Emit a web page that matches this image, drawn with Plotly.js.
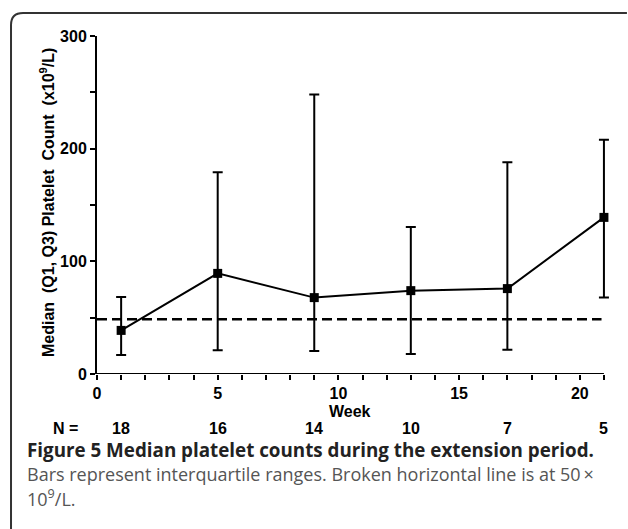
<!DOCTYPE html>
<html>
<head>
<meta charset="utf-8">
<script src="https://cdn.plot.ly/plotly-3.0.1.min.js"></script>
<style>html,body{margin:0;padding:0;background:#fff;}</style>
</head>
<body>
<div id="chart" style="width:628px;height:529px;"></div>
<script>
// Data
const weeks = [1, 5, 9, 13, 17, 21];
const median = [38.7, 89.3, 67.8, 74, 75.8, 139];
const q1 = [16.9, 21, 20.4, 17.8, 21.6, 67.8];
const q3 = [68.4, 179, 248, 130.5, 188, 208];
const nCounts = ['18', '16', '14', '10', '7', '5'];
const refLine = 48.5;
const refLineEnd = 20.9;
const xTicks = [0, 5, 10, 15, 20];
const yTicks = [0, 100, 200, 300];
const xAxisEnd = 21;

const errPlus = median.map((m, i) => q3[i] - m);
const errMinus = median.map((m, i) => m - q1[i]);

// plot area in pixels: x=0 at 97, x=21 at 604, top 36, bottom 374
const xMax = 21.5;
const L = 97, T = 36, B = 374;
const R = L + (604 - L) * xMax / xAxisEnd;
const px = X => (X - L) / (R - L);
const py = Y => (B - Y) / (B - T);

const chartFont = {family: '"Liberation Sans", Arial, sans-serif', size: 16, color: '#000'};
const titleFont = {family: '"Liberation Sans", Arial, sans-serif', size: 16, color: '#000'};
const capFontB = {family: '"Open Sans", sans-serif', size: 18.8, color: '#222'};
const capFont = {family: '"Open Sans", sans-serif', size: 18, color: '#555'};

const trace = {
  x: weeks, y: median, type: 'scatter', mode: 'lines+markers',
  line: {color: '#000', width: 2},
  marker: {symbol: 'square', size: 9, color: '#000'},
  error_y: {type: 'data', symmetric: false, array: errPlus, arrayminus: errMinus,
            color: '#000', thickness: 2, width: 5},
  cliponaxis: false, showlegend: false, hoverinfo: 'none'
};

const annotations = [];
weeks.forEach((w, i) => {
  annotations.push({x: w, xref: 'x', y: py(428), yref: 'paper', text: '<b>' + nCounts[i] + '</b>',
    showarrow: false, font: chartFont, xanchor: 'center', yanchor: 'middle', borderpad: 0});
});
annotations.push({x: px(65), xref: 'paper', y: py(428), yref: 'paper', text: '<b>N =</b>',
  showarrow: false, font: chartFont, xanchor: 'center', yanchor: 'middle', borderpad: 0});
annotations.push({x: px(26), xref: 'paper', y: py(450), yref: 'paper',
  text: '<b>Figure 5 Median platelet counts during the extension period.</b>',
  showarrow: false, font: capFontB, xanchor: 'left', yanchor: 'middle', borderpad: 0});
annotations.push({x: px(26), xref: 'paper', y: py(474), yref: 'paper',
  text: 'Bars represent interquartile ranges. Broken horizontal line is at 50\u2009\u00d7',
  showarrow: false, font: capFont, xanchor: 'left', yanchor: 'middle', borderpad: 0});
annotations.push({x: px(26), xref: 'paper', y: py(498), yref: 'paper',
  text: '10<sup>9</sup>/L.',
  showarrow: false, font: capFont, xanchor: 'left', yanchor: 'middle', borderpad: 0});
annotations.push({x: 10.5, xref: 'x', y: py(411), yref: 'paper', text: '<b>Week</b>',
  showarrow: false, font: titleFont, xanchor: 'center', yanchor: 'middle'});
annotations.push({x: px(47), xref: 'paper', y: py(203), yref: 'paper',
  text: '<b>Median  (Q1, Q3) Platelet  Count  (x10<sup>9</sup>/L)</b>',
  textangle: -90, showarrow: false, font: titleFont, xanchor: 'center', yanchor: 'middle'});

const bx0 = px(11), by0 = py(529), byTop = py(13), bxR = px(627);
const rx = 12 / (R - L), ry = 12 / (B - T);
const shapes = [
  {type: 'line', xref: 'x', yref: 'y', x0: 0, x1: refLineEnd, y0: refLine, y1: refLine,
   line: {color: '#000', width: 2.5, dash: '10px,5px'}},
  {type: 'line', xref: 'x', yref: 'y', x0: 0, x1: xAxisEnd, y0: 0, y1: 0,
   line: {color: '#000', width: 2}},
  {type: 'path', xref: 'paper', yref: 'paper',
   path: `M ${bx0},${by0} L ${bx0},${byTop - ry} Q ${bx0},${byTop} ${bx0 + rx},${byTop} L ${bxR},${byTop}`,
   line: {color: '#333', width: 2}}
];

const layout = {
  width: 628, height: 529,
  margin: {l: L, r: 628 - R, t: T, b: 529 - B, pad: 0},
  paper_bgcolor: '#fff', plot_bgcolor: '#fff',
  font: chartFont,
  xaxis: {range: [0, xMax], tickvals: xTicks, ticktext: xTicks.map(v => '<b>' + v + '</b>'),
    showgrid: false, zeroline: false, showline: false,
    ticks: 'outside', ticklen: 5, tickwidth: 2, tickcolor: '#000', tickfont: chartFont,
    minor: {tickvals: [1,2,3,4,6,7,8,9,11,12,13,14,16,17,18,19,21], ticks: 'outside', ticklen: 5, tickwidth: 2, tickcolor: '#000', showgrid: false}},
  yaxis: {range: [0, 300], tickvals: yTicks, ticktext: yTicks.map(v => '<b>' + v + '</b>'),
    showgrid: false, zeroline: false, showline: true, linecolor: '#000', linewidth: 2,
    ticks: 'outside', ticklen: 5, tickwidth: 2, tickcolor: '#000', tickfont: chartFont,
    minor: {dtick: 50, tick0: 0, ticks: 'outside', ticklen: 5, tickwidth: 2, tickcolor: '#000', showgrid: false}},
  annotations: annotations,
  shapes: shapes
};

Plotly.newPlot('chart', [trace], layout, {staticPlot: true, displayModeBar: false});
</script>
</body>
</html>
